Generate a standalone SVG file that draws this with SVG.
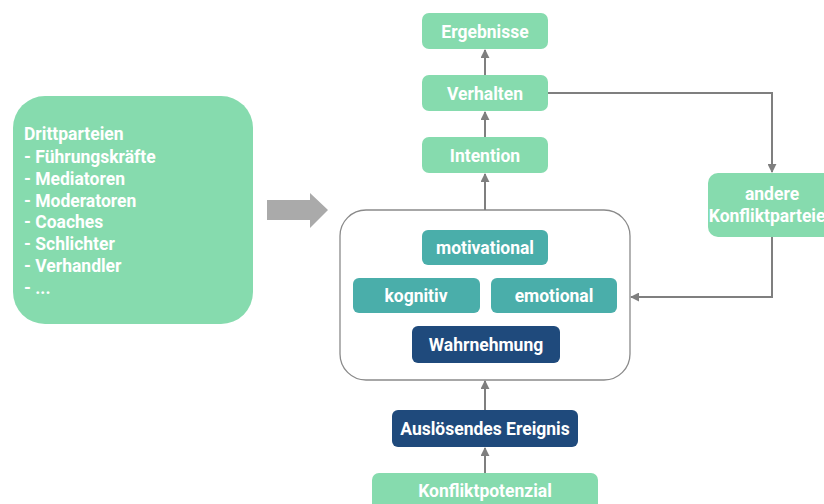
<svg xmlns="http://www.w3.org/2000/svg" width="824" height="504" viewBox="0 0 824 504">
  <defs>
    <marker id="ah" viewBox="0 0 10 10" refX="9" refY="5" markerWidth="9" markerHeight="9" markerUnits="userSpaceOnUse" orient="auto">
      <path d="M0,0 L10,5 L0,10 z" fill="#7f7f7f"/>
    </marker>
    <style>
      .green { fill: #86dbae; }
      .teal { fill: #4aaeaa; }
      .navy { fill: #1f4a7c; }
      .lbl { font-family: Roboto, "Liberation Sans", sans-serif; font-weight: bold; font-size: 17.5px; fill: #ffffff; text-anchor: middle; }
      .list { font-family: Roboto, "Liberation Sans", sans-serif; font-weight: bold; font-size: 17.5px; fill: #ffffff; }
      .conn { fill: none; stroke: #7f7f7f; stroke-width: 2; marker-end: url(#ah); }
    </style>
  </defs>
  <rect width="824" height="504" fill="#ffffff"/>

  <!-- third parties -->
  <g id="drittparteien">
    <rect class="green" x="13" y="96" width="240" height="228" rx="32"/>
    <text class="list" x="24" y="140">Drittparteien</text>
    <text class="list" x="24" y="163">- Führungskräfte</text>
    <text class="list" x="24" y="185">- Mediatoren</text>
    <text class="list" x="24" y="207">- Moderatoren</text>
    <text class="list" x="24" y="228">- Coaches</text>
    <text class="list" x="24" y="250">- Schlichter</text>
    <text class="list" x="24" y="272">- Verhandler</text>
    <text class="list" x="24" y="294">- ...</text>
  </g>

  <!-- block arrow -->
  <g id="blockpfeil">
    <polygon points="267,200 310,200 310,193 328,210 310,228 310,220 267,220" fill="#aaaaaa"/>
  </g>

  <g id="ergebnisse">
    <rect class="green" x="422" y="13" width="126" height="36" rx="7"/>
    <text class="lbl" x="485" y="37.5">Ergebnisse</text>
  </g>
  <g id="verhalten">
    <rect class="green" x="422" y="75" width="126" height="36" rx="7"/>
    <text class="lbl" x="485" y="99.5">Verhalten</text>
  </g>
  <g id="intention">
    <rect class="green" x="422" y="137" width="126" height="36" rx="7"/>
    <text class="lbl" x="485" y="161.5">Intention</text>
  </g>

  <g id="container">
    <rect x="340" y="210" width="290" height="170" rx="26" fill="#ffffff" stroke="#8a8a8a" stroke-width="1.3"/>
  </g>
  <g id="motivational">
    <rect class="teal" x="422" y="230" width="126" height="35" rx="6"/>
    <text class="lbl" x="485" y="253.5">motivational</text>
  </g>
  <g id="kognitiv">
    <rect class="teal" x="353" y="278" width="127" height="35" rx="6"/>
    <text class="lbl" x="416" y="301.5">kognitiv</text>
  </g>
  <g id="emotional">
    <rect class="teal" x="491" y="278" width="126" height="35" rx="6"/>
    <text class="lbl" x="554" y="301.5">emotional</text>
  </g>
  <g id="wahrnehmung">
    <rect class="navy" x="412" y="326" width="148" height="37" rx="6"/>
    <text class="lbl" x="486" y="350.5">Wahrnehmung</text>
  </g>

  <g id="andere">
    <rect class="green" x="708" y="173" width="130" height="64" rx="10"/>
    <text class="lbl" x="772" y="200">andere</text>
    <text class="lbl" x="772" y="222">Konfliktparteien</text>
  </g>

  <g id="ausloesendes">
    <rect class="navy" x="392" y="410" width="186" height="37" rx="6"/>
    <text class="lbl" x="485" y="434.5">Auslösendes Ereignis</text>
  </g>
  <g id="konfliktpotenzial">
    <rect class="green" x="372" y="473" width="226" height="40" rx="7"/>
    <text class="lbl" x="485" y="497">Konfliktpotenzial</text>
  </g>

  <g id="connectors">
    <line class="conn" x1="485" y1="75" x2="485" y2="50"/>
    <line class="conn" x1="485" y1="137" x2="485" y2="112"/>
    <line class="conn" x1="485" y1="210" x2="485" y2="174"/>
    <line class="conn" x1="485" y1="410" x2="485" y2="381"/>
    <line class="conn" x1="485" y1="473" x2="485" y2="448"/>
    <polyline class="conn" points="548,93 772,93 772,172"/>
    <polyline class="conn" points="772,237 772,297 631,297"/>
  </g>
</svg>
